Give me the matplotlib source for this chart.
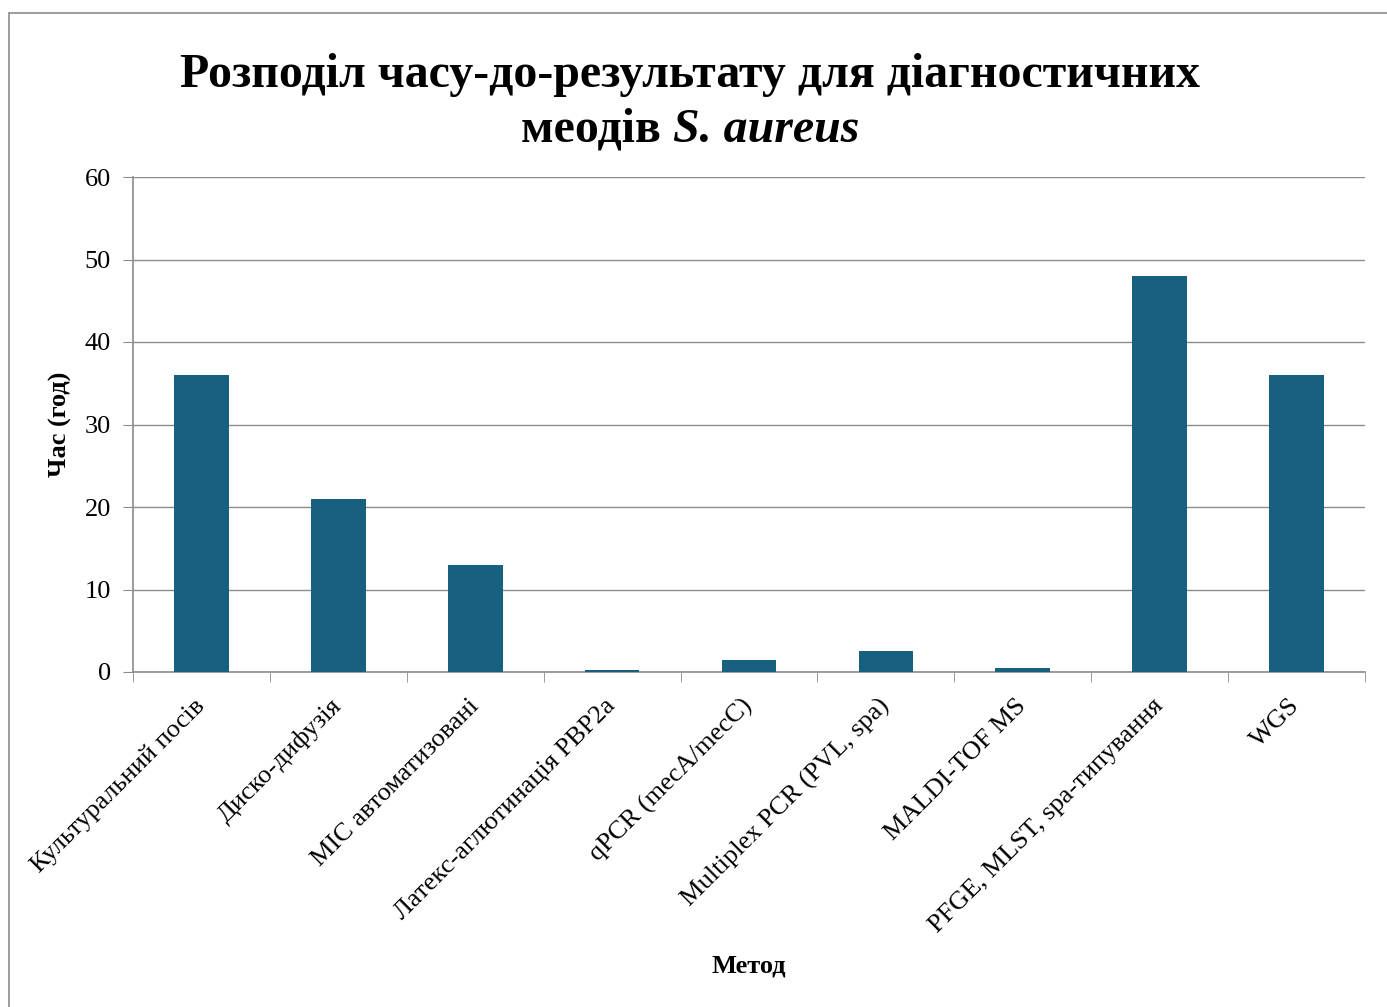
import matplotlib.pyplot as plt
from matplotlib.patches import Rectangle

plt.rcParams['font.family'] = ['Liberation Serif', 'DejaVu Serif']

# data
methods = ['Культуральний посів', 'Диско-дифузія', 'MIC автоматизовані',
           'Латекс-аглютинація PBP2a', 'qPCR (mecA/mecC)', 'Multiplex PCR (PVL, spa)',
           'MALDI-TOF MS', 'PFGE, MLST, spa-типування', 'WGS']
hours = [36, 21, 13, 0.25, 1.5, 2.5, 0.5, 48, 36]
yticks = [0, 10, 20, 30, 40, 50, 60]

W, H = 1387, 1007
fig = plt.figure(figsize=(W / 100, H / 100), dpi=100)
ax = fig.add_axes([133 / W, 1 - 672 / H, (1365 - 133) / W, (672 - 177) / H])

gray = '#8c8c8c'
x = range(len(methods))
ax.bar(x, hours, width=0.4, color='#17607f', zorder=3)
ax.set_xlim(-0.5, len(methods) - 0.5)
ax.set_ylim(0, 60)
ax.set_yticks(yticks)

# category boundaries ticks
ax.set_xticks([i - 0.5 for i in range(len(methods) + 1)], minor=True)
ax.set_xticks(list(x))
ax.set_xticklabels(methods, rotation=45, ha='right', va='center',
                   rotation_mode='anchor', fontsize=19)
ax.tick_params(axis='x', which='major', length=0, pad=22)
ax.tick_params(axis='x', which='minor', length=7, color=gray, direction='out')
ax.tick_params(axis='y', length=7, color=gray, direction='out', pad=9, labelsize=19)

ax.grid(axis='y', color=gray, linewidth=1, zorder=0)
for s in ['top', 'right']:
    ax.spines[s].set_visible(False)
for s in ['left', 'bottom']:
    ax.spines[s].set_color(gray)
    ax.spines[s].set_linewidth(1.2)

ax.set_ylabel('Час (год)', fontsize=19, fontweight='bold', va='center')
ax.yaxis.set_label_coords((60 - 133) / 1232, 0.5)
ax.set_xlabel('Метод', fontsize=19, fontweight='bold', va='center')
ax.xaxis.set_label_coords(0.5, (672 - 966) / 495)

# title
cx = 690 / W
fs = 34.5
fig.text(cx, 1 - 75 / H, 'Розподіл часу-до-результату для діагностичних',
         ha='center', va='center', fontsize=fs, fontweight='bold')
fig.canvas.draw()
r = fig.canvas.get_renderer()
t1 = fig.text(0, 1 - 130 / H, 'меодів ', ha='left', va='center', fontsize=fs, fontweight='bold')
t2 = fig.text(0, 1 - 130 / H, 'S. aureus', ha='left', va='center', fontsize=fs,
              fontweight='bold', style='italic')
w1 = t1.get_window_extent(r).width / W
w2 = t2.get_window_extent(r).width / W
x0 = cx - (w1 + w2) / 2
t1.set_x(x0)
t2.set_x(x0 + w1)

# outer chart border
fig.add_artist(Rectangle((9 / W, -0.1), 1.2, 1 - 13 / H + 0.1, transform=fig.transFigure,
                         fill=False, edgecolor=gray, linewidth=1.2))

fig.savefig('out.png', dpi=100)
